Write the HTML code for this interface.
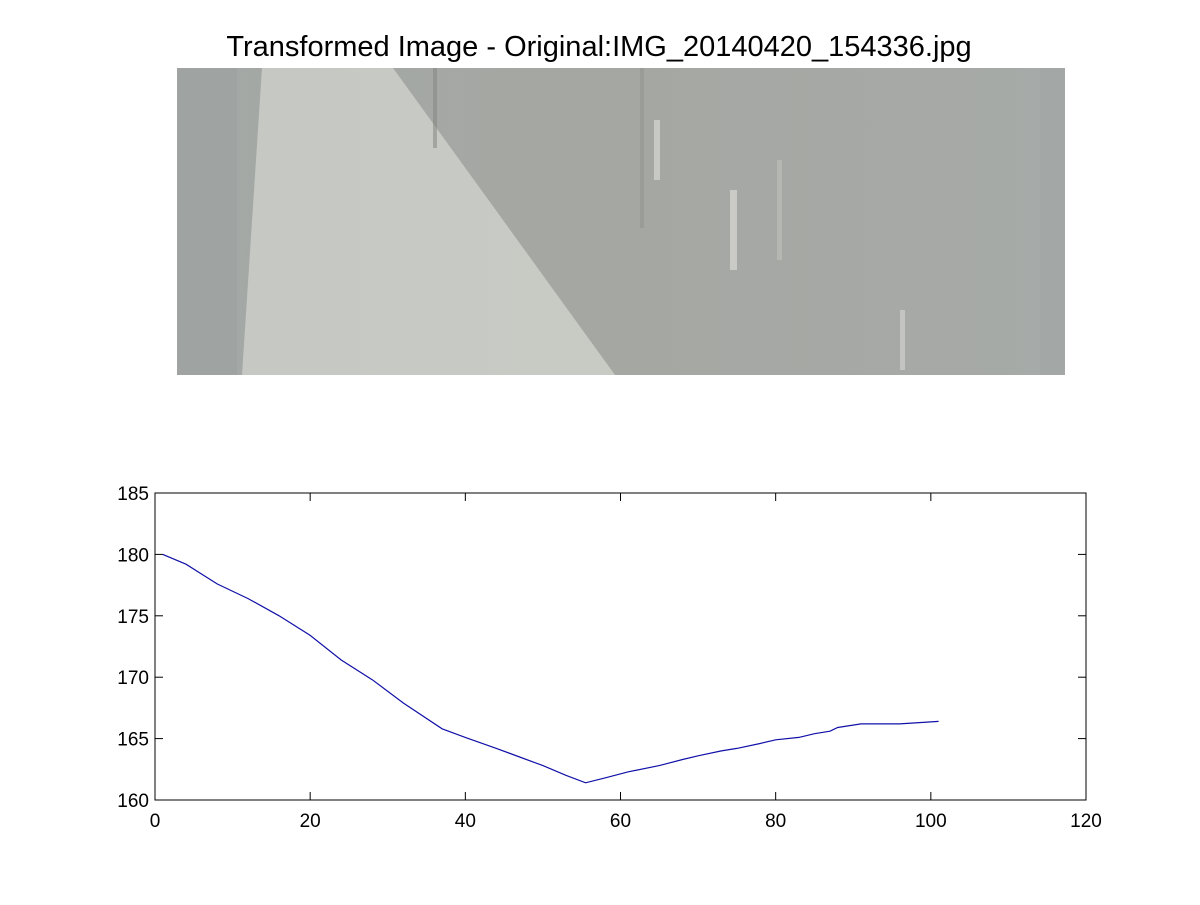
<!DOCTYPE html>
<html><head><meta charset="utf-8"><style>
html,body{margin:0;padding:0;background:#fff;}
body{width:1200px;height:900px;position:relative;overflow:hidden;font-family:"Liberation Sans",sans-serif;}
</style></head><body>
<svg width="1200" height="900" xmlns="http://www.w3.org/2000/svg">
  <defs>
    <linearGradient id="bg" x1="0" x2="1" y1="0" y2="0">
      <stop offset="0" stop-color="#a4a8a6"/>
      <stop offset="0.5" stop-color="#a5a7a2"/>
      <stop offset="1" stop-color="#a6aaa8"/>
    </linearGradient>
    <linearGradient id="lt" x1="0" x2="1" y1="0" y2="0">
      <stop offset="0" stop-color="#c6c8c3"/>
      <stop offset="1" stop-color="#c8cac4"/>
    </linearGradient>
  </defs>
  <text x="599" y="56" font-size="29" text-anchor="middle" fill="#000">Transformed Image - Original:IMG_20140420_154336.jpg</text>
  <g>
    <rect x="177" y="68" width="888" height="307" fill="url(#bg)"/>
    <rect x="177" y="68" width="60" height="307" fill="#9fa3a2"/>
    <polygon points="262,68 393,68 615,375 242,375" fill="url(#lt)"/>
    <rect x="433" y="68" width="4" height="80" fill="#7f837e" opacity="0.5"/>
    <rect x="640" y="68" width="4" height="160" fill="#8a8d88" opacity="0.4"/>
    <rect x="654" y="120" width="6" height="60" fill="#dfe0dc" opacity="0.6"/>
    <rect x="730" y="190" width="7" height="80" fill="#e2e3df" opacity="0.6"/>
    <rect x="777" y="160" width="5" height="100" fill="#c3c5c0" opacity="0.5"/>
    <rect x="900" y="310" width="5" height="60" fill="#d8d9d5" opacity="0.6"/>
    <rect x="1040" y="68" width="25" height="307" fill="#a3a7a6"/>
  </g>
  <g id="chart"></g>
</svg>
<script>
const xTicks = [0, 20, 40, 60, 80, 100, 120];
const yTicks = [160, 165, 170, 175, 180, 185];
const xValues = [1, 4, 8, 12, 16, 20, 24, 28, 32, 37, 40, 44, 47, 50, 53, 55.5, 58, 61, 65, 68, 70, 73, 75, 78, 80, 83, 85, 87, 88, 91, 96, 101];
const yValues = [180, 179.2, 177.6, 176.4, 175, 173.4, 171.4, 169.8, 167.9, 165.8, 165.1, 164.2, 163.5, 162.8, 162, 161.4, 161.8, 162.3, 162.8, 163.3, 163.6, 164, 164.2, 164.6, 164.9, 165.1, 165.4, 165.6, 165.9, 166.2, 166.2, 166.4];
const NS = 'http://www.w3.org/2000/svg';
const L = 155, R = 1086, T = 493, B = 800;
const sx = v => L + (v - 0) / 120 * (R - L);
const sy = v => B - (v - 160) / 25 * (B - T);
const g = document.getElementById('chart');
function mk(tag, attrs) { const e = document.createElementNS(NS, tag); for (const k in attrs) e.setAttribute(k, attrs[k]); g.appendChild(e); return e; }
const box = mk('rect', {x: L, y: T, width: R - L, height: B - T, fill: '#fff', stroke: '#000', 'stroke-width': 1});


xTicks.forEach(t => {
  const x = sx(t);
  const a = mk('line', {x1: x, x2: x, y1: B, y2: B - 8, stroke: '#000'});
  
  
  const b = mk('line', {x1: x, x2: x, y1: T, y2: T + 8, stroke: '#000'});
  
  
  const tx = mk('text', {x: x, y: B + 27, 'font-size': 19, 'text-anchor': 'middle', fill: '#000'});
  tx.textContent = t;
  
  
});
yTicks.forEach(t => {
  const y = sy(t);
  const a = mk('line', {x1: L, x2: L + 8, y1: y, y2: y, stroke: '#000'});
  
  
  const b = mk('line', {x1: R, x2: R - 8, y1: y, y2: y, stroke: '#000'});
  
  
  const tx = mk('text', {x: L - 6, y: y + 7, 'font-size': 19, 'text-anchor': 'end', fill: '#000'});
  tx.textContent = t;
  
  
});
const pts = xValues.map((x, i) => sx(x).toFixed(1) + ',' + sy(yValues[i]).toFixed(1)).join(' ');
const line = mk('polyline', {points: pts, fill: 'none', stroke: '#1010a8', 'stroke-width': 1.2});


</script>
</body></html>
